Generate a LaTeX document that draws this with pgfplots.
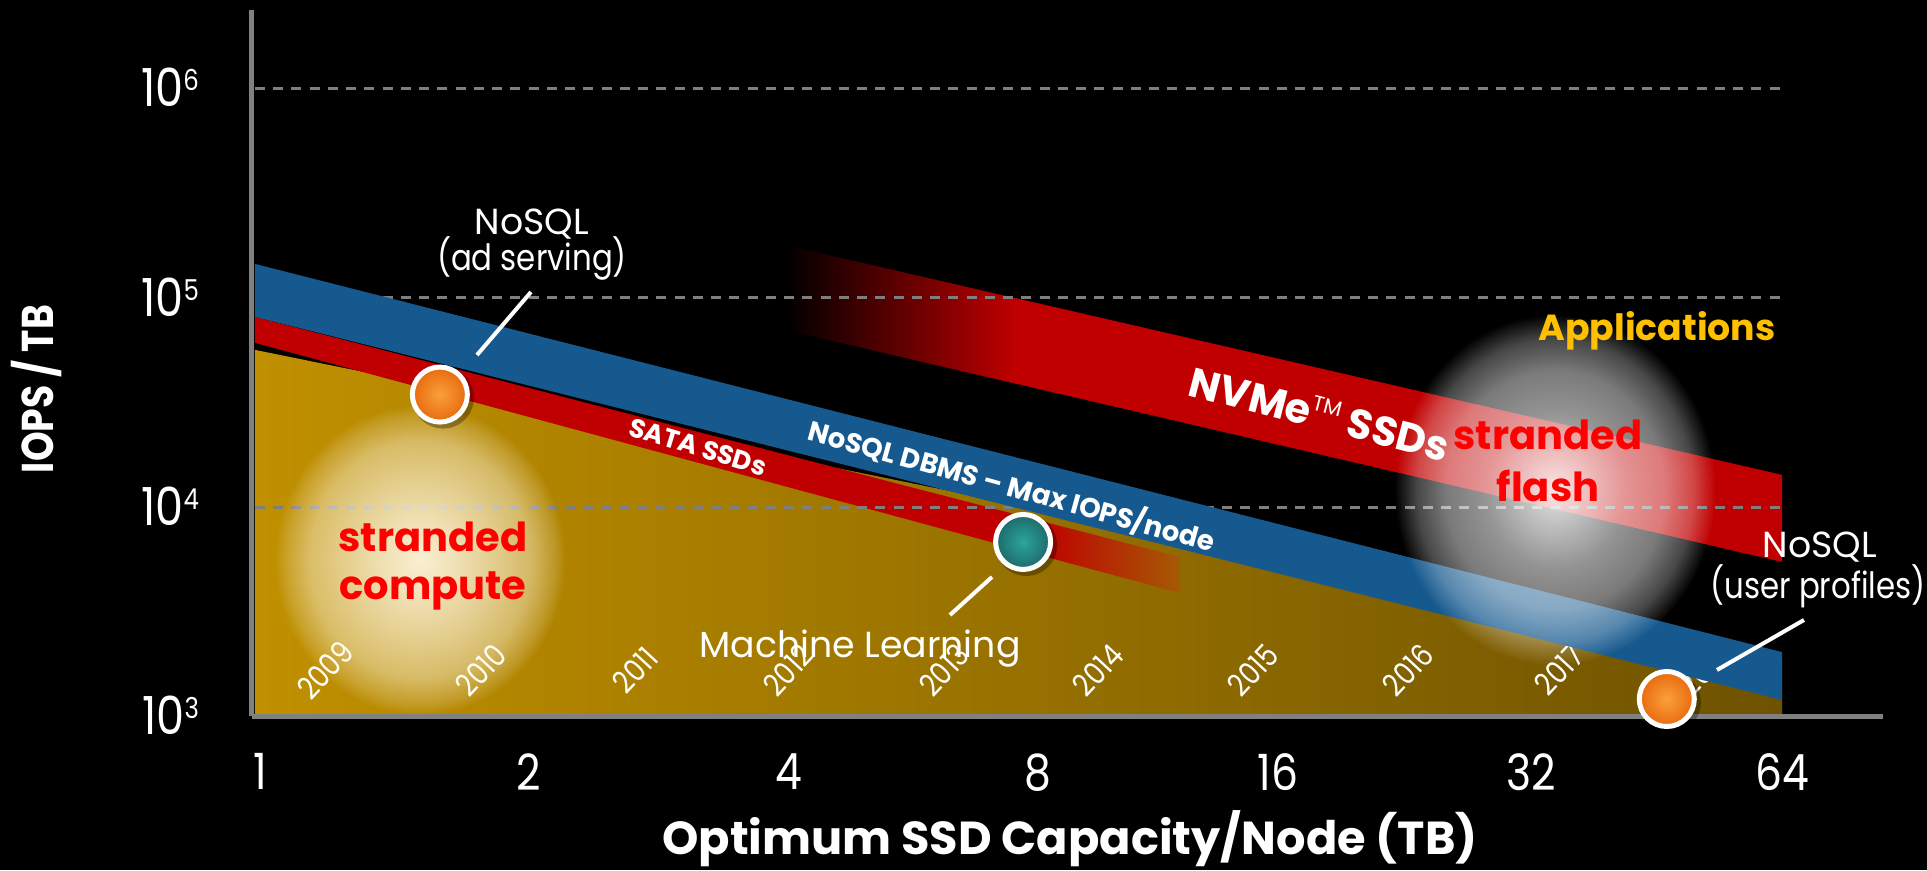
\documentclass[border=0pt]{standalone}
\usepackage{fontspec}
\setmainfont{Poppins}
\newfontfamily\cgthin{Poppins}[FakeStretch=0.85]
\usepackage{pgfplots}
\pgfplotsset{compat=1.18}
\usetikzlibrary{fadings}

\definecolor{bandc}{RGB}{22,89,142}
\definecolor{rband}{RGB}{192,0,0}
\definecolor{goldL}{RGB}{192,144,0}
\definecolor{goldR}{RGB}{110,82,0}
\definecolor{tailc}{RGB}{165,90,5}
\definecolor{gridc}{RGB}{127,127,127}
\definecolor{axc}{RGB}{128,128,128}
\definecolor{appl}{RGB}{255,192,0}
\definecolor{orng}{RGB}{232,106,14}
\definecolor{orngL}{RGB}{250,160,58}
\definecolor{tealc}{RGB}{29,106,106}
\definecolor{tealL}{RGB}{44,164,156}
\definecolor{compc}{RGB}{255,248,228}
\definecolor{strred}{RGB}{255,0,0}

\pgfdeclareradialshading{glowshade}{\pgfpoint{0bp}{0bp}}{%
 color(0bp)=(white!92!black); color(6bp)=(white!80!black); color(13bp)=(white!62!black);
 color(19bp)=(white!45!black); color(23bp)=(white!18!black); color(25bp)=(black); color(50bp)=(black)}
\pgfdeclarefading{glowfade}{\pgfuseshading{glowshade}}
\pgfdeclareradialshading{flashshade}{\pgfpoint{0bp}{0bp}}{%
 color(0bp)=(white!90!black); color(5bp)=(white!75!black); color(11bp)=(white!58!black);
 color(17bp)=(white!48!black); color(21.5bp)=(white!28!black); color(25bp)=(black); color(50bp)=(black)}
\pgfdeclarefading{flashfade}{\pgfuseshading{flashshade}}

\pgfdeclareradialshading{orshade}{\pgfpoint{0bp}{0bp}}{color(0bp)=(orngL); color(25bp)=(orng); color(50bp)=(orng)}
\pgfdeclareradialshading{tlshade}{\pgfpoint{0bp}{0bp}}{color(0bp)=(tealL); color(25bp)=(tealc); color(50bp)=(tealc)}
\newcommand{\ballmark}[1]{%
 \begin{pgfscope}
  \pgfsetfillopacity{0.3}\pgfsetfillcolor{black}
  \pgfpathcircle{\pgfpoint{1.3pt}{-1.3pt}}{12.3pt}\pgfusepath{fill}
 \end{pgfscope}
 \begin{pgfscope}
  \pgfpathcircle{\pgfpointorigin}{11pt}
  \pgfshadepath{#1}{0}
  \pgfusepath{discard}
 \end{pgfscope}
 \begin{pgfscope}
  \pgfsetlinewidth{2pt}\pgfsetstrokecolor{white}
  \pgfpathcircle{\pgfpointorigin}{11pt}\pgfusepath{stroke}
 \end{pgfscope}}
\pgfdeclareplotmark{orball}{\ballmark{orshade}}
\pgfdeclareplotmark{tlball}{\ballmark{tlshade}}

\newcommand{\yt}[1]{10\raisebox{6.4pt}{\fontsize{11.5}{11.5}\selectfont #1}}

\begin{document}
\begin{tikzpicture}
\fill[black] (-100.8pt,-61.4pt) rectangle (670pt,286.6pt);
\path[use as bounding box] (-100.8pt,-61.4pt) rectangle (670pt,286.6pt);
\begin{axis}[
  at={(0pt,0pt)}, anchor=south west,
  scale only axis, width=652.4pt, height=282.6pt,
  xmode=log, ymode=log, log basis x=2, log basis y=10,
  xmin=0.9771, xmax=84.33, ymin=1000, ymax=2371000,
  axis lines*=left,
  axis line style={draw=axc, line width=2pt},
  xtick={1,2.083,4.24,8.37,16.13,32.2,64},
  xticklabels={1,2,4,8,16,32,64},
  ytick={1000,10000,100000,1000000},
  yticklabels={\yt{3},\yt{4},\yt{5},\yt{6}},
  major tick length=0pt, minor tick length=0pt,
  tick style={draw=none}, minor tick style={draw=none},
  xticklabel style={font=\cgthin\fontsize{20}{20}\selectfont, text=white, anchor=north, inner sep=0pt, yshift=-14.6pt},
  yticklabel style={font=\cgthin\fontsize{21}{21}\selectfont, text=white, anchor=base east, inner sep=0pt, xshift=-21pt, yshift=-7.4pt},
  clip=false,
]
% gold applications area
\addplot[draw=none, left color=goldL, right color=goldR] coordinates {(0.985,56400) (64,1862) (64,1028) (0.985,1028)};
% SATA SSDs band
\addplot[draw=none, left color=rband, right color=tailc] coordinates {(8.42,8610) (12.35,5780) (12.35,3890) (8.42,5890)};
\addplot[draw=none, fill=rband] coordinates {(0.985,81100) (8.6,8430) (8.6,5755) (0.985,60960)};
% year labels
\begin{scope}[every node/.style={white, rotate=47, font=\cgthin\fontsize{12.5}{12.5}\selectfont}]
\node at (axis description cs:0.0448,0.0658) {2009};
\node at (axis description cs:0.1404,0.0658) {2010};
\node at (axis description cs:0.2348,0.0658) {2011};
\node at (axis description cs:0.3286,0.0658) {2012};
\node at (axis description cs:0.4243,0.0658) {2013};
\node at (axis description cs:0.5187,0.0658) {2014};
\node at (axis description cs:0.6137,0.0658) {2015};
\node at (axis description cs:0.7088,0.0658) {2016};
\node at (axis description cs:0.8013,0.0658) {2017};
\node at (axis description cs:0.8903,0.0658) {2018};
\end{scope}
% NVMe SSDs band
\addplot[draw=none, left color=black, right color=rband] coordinates {(4.19,179000) (7.9,99300) (7.9,38800) (4.19,70300)};
\addplot[draw=none, fill=rband] coordinates {(7.85,100000) (64,14260) (64,5470) (7.85,39060)};
% grid lines
\addplot[gridc, line width=1.1pt, dash pattern=on 4pt off 3.3pt] coordinates {(0.985,10000) (64,10000)};
\addplot[gridc, line width=1.1pt, dash pattern=on 4pt off 3.3pt] coordinates {(0.985,100000) (64,100000)};
\addplot[gridc, line width=1.1pt, dash pattern=on 4pt off 3.3pt] coordinates {(0.985,1000000) (64,1000000)};
% NoSQL DBMS band
\addplot[draw=none, fill=bandc] coordinates {(0.985,145200) (64,2030) (64,1200) (0.985,81100)};
% glows
\fill[compc, path fading=glowfade] (axis description cs:0.1030,0.2215) ellipse [x radius=58pt, y radius=62pt];
\fill[white, path fading=flashfade] (axis description cs:0.7989,0.3206) ellipse [x radius=64pt, y radius=70pt];
% application points
\addplot[only marks, mark=orball] coordinates {(1.633,34500) (46.7,1212)};
\addplot[only marks, mark=tlball] coordinates {(8.04,6820)};
\end{axis}
\begin{scope}[x=0.4pt, y=-0.4pt, shift={(-100.8pt,286.6pt)}]
\node[rotate=90, white, font=\cgthin\bfseries\fontsize{17.8}{20}\selectfont] at (37,389) {IOPS / TB};
\node[anchor=base, white, font=\bfseries\fontsize{18.5}{20}\selectfont] at (1070,855) {Optimum SSD Capacity/Node (TB)};
\begin{scope}[every node/.style={anchor=base, white, font=\fontsize{14.5}{18}\selectfont}]
\node at (532,235) {NoSQL};
\node at (860,658) {Machine Learning};
\node at (1820,558) {NoSQL};
\end{scope}
\begin{scope}[every node/.style={anchor=base, white, font=\cgthin\fontsize{14.5}{18}\selectfont}]
\node at (532,271) {(ad serving)};
\node at (1818,599) {(user profiles)};
\end{scope}
\draw[white, line width=1.6pt] (477,355) -- (531,292);
\draw[white, line width=1.6pt] (992,577) -- (950,615);
\draw[white, line width=1.6pt] (1717,670) -- (1804,620);
\begin{scope}[every node/.style={anchor=base, strred, font=\bfseries\fontsize{16}{18}\selectfont}]
\node at (433,552) {stranded};
\node at (433,600) {compute};
\node at (1548,450) {stranded};
\node at (1548,502) {flash};
\end{scope}
\node[anchor=base, appl, font=\bfseries\fontsize{14.5}{16}\selectfont] at (1657,341) {Applications};
\node[rotate=-14.5, white, font=\bfseries\fontsize{16.5}{18}\selectfont] at (1320,413) {NVMe\raisebox{0.42em}{\mdseries\fontsize{8.5}{8.5}\selectfont TM} SSDs};
\node[rotate=-17, white, font=\bfseries\fontsize{10.5}{12}\selectfont] at (698,447) {SATA SSDs};
\node[rotate=-15.5, white, font=\bfseries\fontsize{11}{12}\selectfont] at (1012,486) {NoSQL DBMS \textendash{} Max IOPS/node};
\end{scope}
\end{tikzpicture}
\end{document}
